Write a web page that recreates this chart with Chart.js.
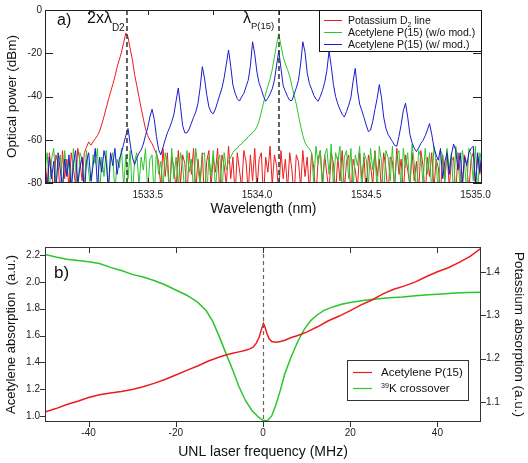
<!DOCTYPE html>
<html><head><meta charset="utf-8">
<script src="https://cdn.jsdelivr.net/npm/chart.js@4/dist/chart.umd.min.js"></script>
<style>
html,body{margin:0;padding:0;background:#fff;}
#wrap{position:relative;width:528px;height:463px;overflow:hidden;}
#ca{position:absolute;left:0;top:0;width:528px;height:232px;}
#cb{position:absolute;left:0;top:232px;width:528px;height:231px;}
</style></head><body>
<div id="wrap"><canvas id="ca" width="528" height="232"></canvas><canvas id="cb" width="528" height="231"></canvas></div>
<script>
// ---------- Panel a data (wavelength grid 1533.03 .. 1535.03 nm, step 0.01 nm) ----------
const wlStart = 1533.03, wlStep = 0.01;
const potassiumD2 = [
-68,-82,-66,-75,-84,-67,-71,-86,-65,-78,-69,-83,-66,-73,-81,-64,-70,-79,
-66,-63.5,-61,-62.5,-61,-59.5,-58,-56,-52.8,-49.2,-45.5,-41.5,-38,-34.5,-30.8,-26.5,-23,-19.5,-15,-10.7,-12.5,-18,-23,-29.8,-34.9,-40.2,-45.4,-50.2,-55,-58,-60.2,-61.8,-64.2,-66.5,
-70,-82,-64,-77,-66,-85,-68,-73,-83,-65,
-80,-67,-71,-86,-66,-76,-64,-84,-69,-79,
-66,-88,-70,-65,-82,-68,-75,-64,-85,-67,
-72,-81,-63,-78,-68,-86,-66,-74,-82,-65,
-70,-84,-67,-79,-64,-83,-69,-66,-87,-68,
-75,-63,-81,-67,-72,-85,-65,-78,-69,-83,
-66,-74,-86,-67,-70,-82,-65,-77,-68,-84,
-66,-73,-87,-69,-65,-80,-67,-76,-84,-66,
-71,-85,-68,-79,-65,-83,-70,-67,-86,-69,
-74,-82,-66,-78,-68,-85,-67,-72,-81,-65,
-77,-69,-84,-66,-73,-86,-68,-70,-82,-64,
-76,-69,-85,-67,-74,-81,-66,-79,-70,-84,
-65,-72,-86,-68,-77,-66,-83,-69,-73,-85,
-67,-78,-65,-82,-70,-68,-86,-66,-75,-83,
-67,-71,-84,-69,-66,-80,-68,-76,-67
];
const acetyleneNoMod = [
-74,-66,-83,-69,-64,-80,-71,-67,-85,-65,
-76,-70,-82,-64,-73,-87,-66,-69,-81,-65,
-75,-84,-67,-71,-64,-86,-68,-77,-65,-83,
-70,-66,-85,-69,-73,-64,-82,-67,-78,-65,
-86,-70,-66,-81,-68,-74,-64,-84,-69,-67,
-87,-65,-76,-70,-83,-66,-72,-85,-64,-78,
-68,-82,-66,-71,-86,-65,-75,-69,-84,-64,
-73,-81,-67,-66,-87,-68,-77,-65,-83,-70,
-67,-85,-66,-74,-70,-68,
-66,-64.5,-64,-62.5,-62,-60.5,-60,-58.5,-57.8,-56.5,-55.8,-54,-51.2,-47.2,-43,-38.8,-35.2,-32,-27.5,-21.8,-15.8,-11,-16.5,-21.5,-24.9,-27.5,-30.7,-35.2,-39.4,-43.5,-48.6,-53.7,-58,-61.4,-63,-64.2,
-66,-80,-63,-71,-65,-84,-67,-64,-76,-62,
-82,-66,-70,-63,-86,-68,-65,-78,-64,-83,
-67,-72,-63,-85,-66,-69,-81,-64,-74,-66,
-84,-63,-70,-87,-65,-68,-79,-63,-82,-67,
-65,-85,-64,-73,-66,-83,-62,-71,-86,-65,
-68,-80,-64,-76,-66,-84,-63,-70,-85,-65,
-67,-81,-64,-74,-66,-86,-63,-69,-82,-65,
-71,-84,-64,-67,-79,-63,-85,-66,-70
];
const acetyleneMod = [
-72,-84,-68,-78,-70,-85,-66,-74,-82,-69,
-77,-67,-84,-71,-65,-80,-73,-68,-86,-70,
-66,-79,-72,-64,-82,-68,-75,-65,-70,-83,
-66,-72,-64,-76,
-69,-66,-62,-58,-54.8,-62,-68,-71.5,-68.5,-66.2,
-64.7,-62,-58,-54.5,-49.5,-45.9,-50.5,-58.5,-64.5,-67,
-63.5,-60,-56.8,-54.5,-51.7,-48.2,-42,-36.1,-44.5,-53.5,
-56.8,-56.8,-55,-52.3,-49.6,-47.2,-43.2,-36,-26.2,-31.5,
-39,-44.8,-47.2,-48,-45.8,-42.5,-39.2,-36,-31.3,-25,
-18.5,-26,-34.7,-38.5,-41,-42.1,-40.2,-38.6,-35.5,-32.5,
-26,-14.7,-20.5,-28.7,-33.9,-36.6,-40,-42.2,-40.8,-38.8,
-36.5,-32.4,-25.5,-18.8,-27,-35,-37.6,-40,-41.8,-41.9,
-39,-36,-32.5,-25,-14.7,-19.5,-29,-34,-36.6,-39.4,
-41.2,-42.2,-40,-37.2,-33.5,-28,-19,-26,-34.5,-40,
-43.4,-46,-48.2,-49.5,-47,-44,-40.5,-33,-27,-37,
-43.5,-46.5,-49.7,-53.2,-56.2,-55.5,-51.5,-46,-41,-34.5,
-40.5,-49.5,-54.6,-57.5,-59.2,-60.8,-62.6,-63,-58.4,-53,
-46.5,-43.1,-49.5,-57.5,-61.5,-63.9,-65.5,-63.8,-61.7,-60.3,
-58.2,-55.5,-52.5,-57.5,-63.5,-67,-69.5,
-64,-78,-70,-66,-76,-67,-62,-65,-74,-66,-80,-68,-72,-66,-64,-63,-82,-66,-75,-65
];
const wlTicks = [1533.5, 1534.0, 1534.5, 1535.0];
const wlTopTicks = [1533.23, 1533.5, 1533.8, 1534.1, 1534.41, 1534.71, 1535.01];
const dbTicks = [0, -20, -40, -60, -80];
const markerWl = [1533.404, 1534.10];

// ---------- Panel b data ----------
const freqAcet = [-50,-47.5,-45,-42.5,-40,-37.5,-35,-32.5,-30,-27.5,-25,-22.5,-20,-17.5,-15,-12.5,-10,-8.5,-7,-5.5,-4,-3,-2.2,-1.5,-0.9,-0.4,0.1,0.5,0.9,1.4,2,3,4,5,6.5,8,10,12.5,15,17.5,20,22.5,25,27.5,30,32.5,35,37.5,40,42.5,45,47.5,50];
const acetAbs = [1.03,1.055,1.085,1.11,1.137,1.158,1.172,1.183,1.197,1.218,1.243,1.272,1.305,1.34,1.373,1.41,1.44,1.455,1.467,1.478,1.49,1.5,1.515,1.545,1.585,1.64,1.69,1.66,1.615,1.575,1.555,1.55,1.555,1.565,1.585,1.6,1.625,1.665,1.71,1.745,1.785,1.828,1.865,1.91,1.945,1.97,2.0,2.04,2.075,2.105,2.145,2.19,2.25];
const freqK = [-50,-47.5,-45,-42.5,-40,-37.5,-35,-32.5,-30,-27.5,-25,-22.5,-20,-17.5,-15,-13,-11.5,-10,-8.5,-7,-5.5,-4,-2.5,-1,0,1,2,3,4,5,6.5,8,9.5,11,12.5,14,16,18,20,23,26,29,32,35,38,41,44,47,50];
const kAbs = [1.440,1.434,1.429,1.426,1.423,1.419,1.410,1.403,1.394,1.388,1.380,1.370,1.358,1.346,1.330,1.310,1.285,1.250,1.212,1.175,1.135,1.103,1.080,1.065,1.058,1.057,1.068,1.095,1.128,1.165,1.205,1.240,1.268,1.288,1.301,1.311,1.319,1.325,1.329,1.334,1.337,1.340,1.342,1.345,1.347,1.349,1.351,1.352,1.353];
const freqTicks = [-40, -20, 0, 20, 40];
const acetTicks = [1.0, 1.2, 1.4, 1.6, 1.8, 2.0, 2.2];
const kTicks = [1.1, 1.2, 1.3, 1.4];

// ---------- styles ----------
const FONT = "'Liberation Sans', Arial, Helvetica, sans-serif";
const RED = '#ec1c1c', GREEN = '#2cc52c', BLUE = '#1c1ccf';

function seg(ctx,x1,y1,x2,y2){ctx.beginPath();ctx.moveTo(x1,y1);ctx.lineTo(x2,y2);ctx.stroke();}
function rich(ctx, x, y, parts, size){
  parts.forEach(p=>{
    let fs = size, dy = 0;
    if (p.sub){ fs = size*0.68; dy = size*0.32; }
    if (p.sup){ fs = size*0.62; dy = -size*0.38; }
    ctx.font = fs + 'px ' + FONT;
    ctx.fillText(p.t, x, y+dy);
    x += ctx.measureText(p.t).width;
  });
  return x;
}
const snap = v => Math.round(v) + 0.5;

const panelA = {
  id: 'panelA',
  afterDatasetsDraw(chart){
    const {ctx, chartArea:a, scales:{x, y}} = chart;
    ctx.save();
    ctx.strokeStyle = '#3c3c3c'; ctx.lineWidth = 1.6; ctx.setLineDash([5,3]);
    markerWl.forEach(v => { const px = Math.round(x.getPixelForValue(v)); seg(ctx, px, a.top, px, a.bottom); });
    ctx.setLineDash([]);
    ctx.strokeStyle = '#222'; ctx.lineWidth = 1;
    ctx.strokeRect(a.left+0.5, a.top+0.5, a.right-a.left-1, a.bottom-a.top-1);
    dbTicks.forEach(v => { const py = snap(y.getPixelForValue(v)); seg(ctx, a.left, py, a.left+8, py); seg(ctx, a.right-9, py, a.right, py); });
    wlTicks.forEach(v => { const px = snap(x.getPixelForValue(v)); seg(ctx, px, a.bottom, px, a.bottom-5); });
    wlTopTicks.forEach(v => { const px = snap(x.getPixelForValue(v)); seg(ctx, px, a.top, px, a.top+5); });
    // annotations
    ctx.fillStyle = '#111'; ctx.textBaseline = 'alphabetic'; ctx.textAlign = 'left';
    ctx.font = '16px ' + FONT; ctx.fillText('a)', 57, 25);
    ctx.font = '16px ' + FONT; ctx.fillText('2x\u03bb', 87, 23);
    let w = ctx.measureText('2x\u03bb').width;
    ctx.font = '10px ' + FONT; ctx.fillText('D2', 87 + w, 31);
    ctx.font = '16px ' + FONT; ctx.fillText('\u03bb', 243, 23);
    w = ctx.measureText('\u03bb').width;
    ctx.font = '9.5px ' + FONT; ctx.fillText('P(15)', 243 + w, 29);
    // legend
    const bx = 319, by = a.top, bw = a.right - 319, bh = 42;
    ctx.fillStyle = '#fff'; ctx.fillRect(bx, by, bw, bh);
    ctx.strokeStyle = '#111'; ctx.lineWidth = 1; ctx.strokeRect(bx+0.5, by+0.5, bw-1, bh-1);
    const rows = [
      {c: RED, parts:[{t:'Potassium D'},{t:'2',sub:true},{t:' line'}]},
      {c: GREEN, parts:[{t:'Acetylene P(15) (w/o mod.)'}]},
      {c: BLUE, parts:[{t:'Acetylene P(15) (w/ mod.)'}]}
    ];
    rows.forEach((r,i) => {
      const ry = 20 + i*12;
      ctx.strokeStyle = r.c; ctx.lineWidth = 1; seg(ctx, 324, ry+0.5, 342, ry+0.5);
      ctx.fillStyle = '#111';
      rich(ctx, 348, ry+4, r.parts, 10.5);
    });
    ctx.restore();
  }
};

const panelB = {
  id: 'panelB',
  afterDatasetsDraw(chart){
    const {ctx, chartArea:a, scales:{x, y, y2}} = chart;
    ctx.save();
    ctx.strokeStyle = '#666'; ctx.lineWidth = 1.2; ctx.setLineDash([4,3]);
    const zx = Math.round(x.getPixelForValue(0)) + 0.5; seg(ctx, zx, a.top, zx, a.bottom);
    ctx.setLineDash([]);
    ctx.strokeStyle = '#333'; ctx.lineWidth = 1;
    ctx.strokeRect(a.left+0.5, a.top+0.5, a.right-a.left-1, a.bottom-a.top-1);
    acetTicks.forEach(v => { const py = snap(y.getPixelForValue(v)); seg(ctx, a.left-5, py, a.left, py); });
    kTicks.forEach(v => { const py = snap(y2.getPixelForValue(v)); seg(ctx, a.right, py, a.right+5, py); });
    freqTicks.forEach(v => { const px = snap(x.getPixelForValue(v)); seg(ctx, px, a.bottom, px, a.bottom+5); seg(ctx, px, a.top, px, a.top+6); });
    ctx.fillStyle = '#111'; ctx.textBaseline = 'alphabetic'; ctx.textAlign = 'left';
    ctx.font = '17px ' + FONT; ctx.fillText('b)', 54, 46);
    // legend
    const bx = 347, by = 128, bw = 122, bh = 41;
    ctx.fillStyle = '#fff'; ctx.fillRect(bx, by, bw, bh);
    ctx.strokeStyle = '#333'; ctx.lineWidth = 1; ctx.strokeRect(bx+0.5, by+0.5, bw-1, bh-1);
    const rows = [
      {c: RED, parts:[{t:'Acetylene P(15)'}]},
      {c: GREEN, parts:[{t:'39',sup:true},{t:'K crossover'}]}
    ];
    rows.forEach((r,i) => {
      const ry = 140 + i*16;
      ctx.strokeStyle = r.c; ctx.lineWidth = 1.2; seg(ctx, 353, ry+0.5, 372, ry+0.5);
      ctx.fillStyle = '#111';
      rich(ctx, 381, ry+4, r.parts, 11.5);
    });
    ctx.restore();
  }
};

const grid = arr => arr.map((v,i) => ({x: wlStart + i*wlStep, y: v}));
const pairs = (xs, ys) => xs.map((v,i) => ({x: v, y: ys[i]}));
const tickFont = {family: FONT, size: 10};

new Chart(document.getElementById('ca'), {
  type: 'line',
  data: { datasets: [
    {label: 'Acetylene P(15) (w/ mod.)', data: grid(acetyleneMod), borderColor: BLUE},
    {label: 'Acetylene P(15) (w/o mod.)', data: grid(acetyleneNoMod), borderColor: GREEN},
    {label: 'Potassium D2 line', data: grid(potassiumD2), borderColor: RED}
  ]},
  options: {
    responsive: false, animation: false, devicePixelRatio: 1,
    layout: {padding: {left: 0, right: 46, top: 10, bottom: 0}},
    elements: {point: {radius: 0}, line: {tension: 0, borderWidth: 1}},
    plugins: {legend: {display: false}, tooltip: {enabled: false}},
    scales: {
      x: {type: 'linear', position: 'bottom', min: 1533.03, max: 1535.03,
        afterBuildTicks: s => { s.ticks = wlTicks.map(v => ({value: v})); },
        afterFit: s => { s.height = 49; },
        grid: {display: false, drawTicks: false}, border: {display: false},
        ticks: {padding: 6, color: '#222', font: tickFont, maxRotation: 0, autoSkip: false, callback: v => Number(v).toFixed(1)},
        title: {display: true, text: 'Wavelength (nm)', color: '#111', font: {family: FONT, size: 14}, padding: {top: 0, bottom: 14.6}}
      },
      y: {type: 'linear', position: 'left', min: -80, max: 0,
        afterBuildTicks: s => { s.ticks = dbTicks.map(v => ({value: v})); },
        afterFit: s => { s.width = 45; },
        grid: {display: false, drawTicks: false}, border: {display: false},
        ticks: {padding: 3, color: '#222', font: tickFont, callback: v => String(v)},
        title: {display: true, text: 'Optical power (dBm)', color: '#111', font: {family: FONT, size: 13.5}, padding: {top: 4.5, bottom: 0}}
      }
    }
  },
  plugins: [panelA]
});

new Chart(document.getElementById('cb'), {
  type: 'line',
  data: { datasets: [
    {label: 'Acetylene P(15)', data: pairs(freqAcet, acetAbs), borderColor: RED, yAxisID: 'y'},
    {label: '39K crossover', data: pairs(freqK, kAbs), borderColor: GREEN, yAxisID: 'y2'}
  ]},
  options: {
    responsive: false, animation: false, devicePixelRatio: 1,
    layout: {padding: {left: 0, right: 0, top: 15, bottom: 0}},
    elements: {point: {radius: 0}, line: {tension: 0, borderWidth: 1.5}},
    plugins: {legend: {display: false}, tooltip: {enabled: false}},
    scales: {
      x: {type: 'linear', position: 'bottom', min: -50, max: 50,
        afterBuildTicks: s => { s.ticks = freqTicks.map(v => ({value: v})); },
        afterFit: s => { s.height = 41; },
        grid: {display: false, drawTicks: false}, border: {display: false},
        ticks: {padding: 5, color: '#222', font: tickFont, maxRotation: 0, autoSkip: false, callback: v => String(v)},
        title: {display: true, text: 'UNL laser frequency (MHz)', color: '#111', font: {family: FONT, size: 14}, padding: {top: 0, bottom: 2.6}}
      },
      y: {type: 'linear', position: 'left', min: 0.955, max: 2.26,
        afterBuildTicks: s => { s.ticks = acetTicks.map(v => ({value: v})); },
        afterFit: s => { s.width = 45; },
        grid: {display: false, drawTicks: false}, border: {display: false},
        ticks: {padding: 5, color: '#222', font: tickFont, callback: v => Number(v).toFixed(1)},
        title: {display: true, text: 'Acetylene absorption  (a.u.)', color: '#111', font: {family: FONT, size: 13}, padding: {top: 4, bottom: 0}}
      },
      y2: {type: 'linear', position: 'right', min: 1.054, max: 1.457,
        afterBuildTicks: s => { s.ticks = kTicks.map(v => ({value: v})); },
        afterFit: s => { s.width = 47; },
        grid: {display: false, drawTicks: false}, border: {display: false},
        ticks: {padding: 5, color: '#222', font: tickFont, callback: v => Number(v).toFixed(1)},
        title: {display: true, text: 'Potassium absorption (a.u.)', color: '#111', font: {family: FONT, size: 13.5}, padding: {top: 1, bottom: 0}}
      }
    }
  },
  plugins: [panelB]
});
</script>
</body></html>
